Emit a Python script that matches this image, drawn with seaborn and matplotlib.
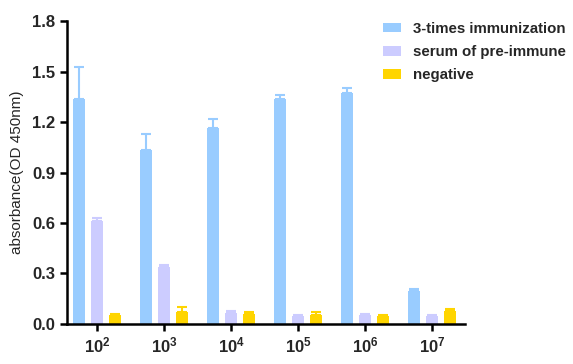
import numpy as np
import pandas as pd
import matplotlib
matplotlib.use("Agg")
import matplotlib.pyplot as plt
import seaborn as sns

# dilution levels (exponent of 10)
dilutions = [2, 3, 4, 5, 6, 7]
groups = ["3-times immunization", "serum of pre-immune", "negative"]

immunized = [1.34, 1.035, 1.165, 1.34, 1.375, 0.195]
immunized_err = [0.19, 0.095, 0.055, 0.02, 0.025, 0.012]
preimmune = [0.61, 0.34, 0.068, 0.05, 0.055, 0.05]
preimmune_err = [0.022, 0.012, 0.01, 0.005, 0.006, 0.005]
negative = [0.053, 0.07, 0.058, 0.055, 0.05, 0.078]
negative_err = [0.006, 0.03, 0.016, 0.018, 0.005, 0.01]

colors = ["#99CCFF", "#CCCCFF", "#FFD500"]

sns.set_style("ticks")
plt.rcParams["font.family"] = ["Liberation Sans", "DejaVu Sans"]
plt.rcParams["mathtext.fontset"] = "custom"
plt.rcParams["mathtext.bf"] = "Liberation Sans:bold"
plt.rcParams["mathtext.rm"] = "Liberation Sans"

labels = [rf"$\mathbf{{10^{{{d}}}}}$" for d in dilutions]
df = pd.DataFrame({
    "dilution": labels * 3,
    "group": np.repeat(groups, len(dilutions)),
    "od": immunized + preimmune + negative,
})
errs = [immunized_err, preimmune_err, negative_err]
means = [immunized, preimmune, negative]

fig = plt.figure(figsize=(5.73, 3.64), dpi=100)
ax = fig.add_axes([0.117, 0.110, 0.694, 0.832])
sns.barplot(data=df, x="dilution", y="od", hue="group", palette=colors,
            width=0.8, gap=0.33, errorbar=None, ax=ax, saturation=1,
            linewidth=0, zorder=2)

for cont, m, e, c in zip(ax.containers, means, errs, colors):
    xs = [p.get_x() + p.get_width() / 2 for p in cont.patches]
    ax.errorbar(xs, m, yerr=[np.zeros(len(e)), e], fmt="none", ecolor=c,
                elinewidth=1.5, capsize=3.5, capthick=1.5, zorder=1)

ax.set_ylim(0, 1.8)
ticks = np.arange(0, 1.81, 0.3)
ax.set_yticks(ticks)
ax.set_yticklabels([f"{v:.1f}" for v in ticks], fontweight="bold")
ax.set_xlim(-0.45, 5.49)
ax.set_xlabel("")
ax.set_ylabel("absorbance(OD 450nm)", fontsize=11, labelpad=6)
ax.tick_params(axis="both", labelsize=12, width=1.8, length=5, color="black")
for s in ["left", "bottom"]:
    ax.spines[s].set_linewidth(1.8)
    ax.spines[s].set_color("black")
sns.despine(ax=ax)

leg = ax.legend(loc="upper left", bbox_to_anchor=(0.644, 0.977), bbox_transform=fig.transFigure,
                frameon=False, fontsize=10.8, handlelength=1.25, handleheight=0.6,
                labelspacing=0.62, handletextpad=0.75)
for t in leg.get_texts():
    t.set_fontweight("bold")

fig.savefig("out.png", dpi=100)
